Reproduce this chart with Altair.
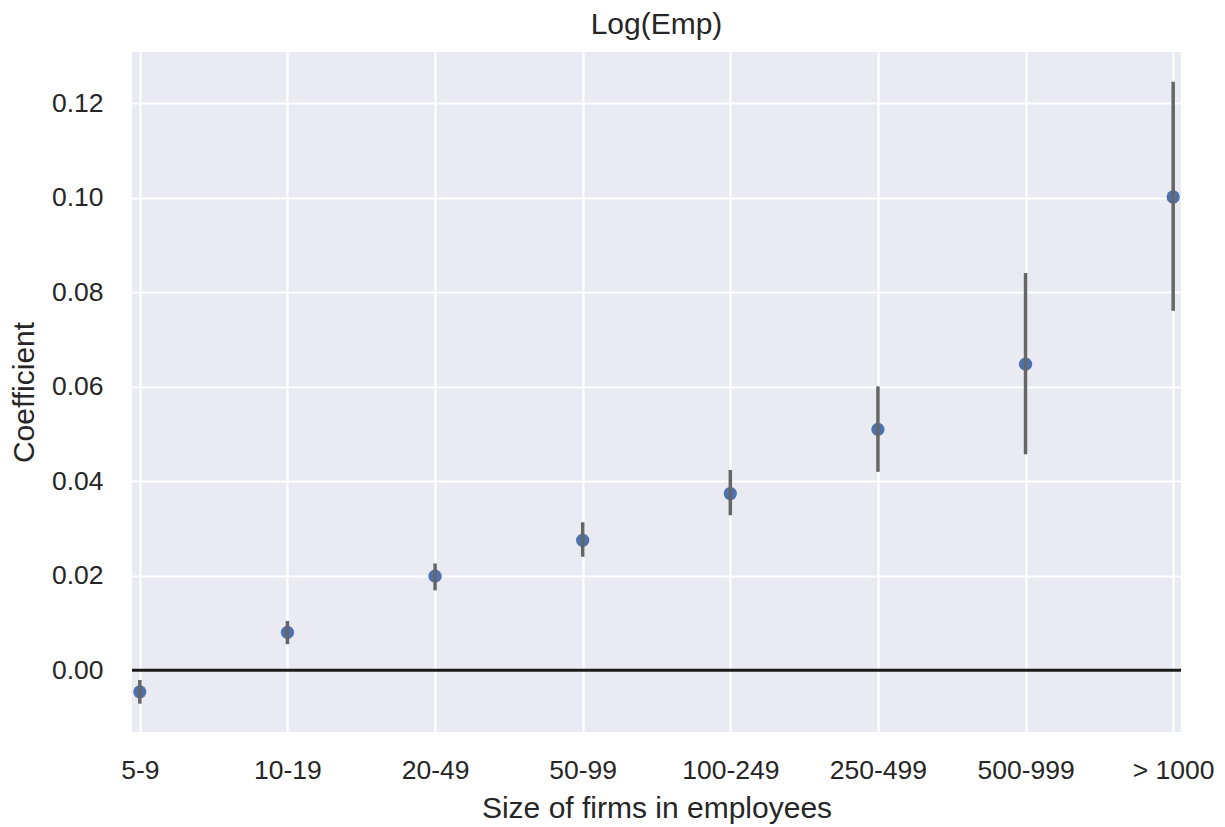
import altair as alt
import pandas as pd

categories = ["5-9", "10-19", "20-49", "50-99", "100-249", "250-499", "500-999", "> 1000"]
coef = [-0.0046, 0.0080, 0.0199, 0.0275, 0.0374, 0.0510, 0.0648, 0.1002]
ci_low = [-0.0071, 0.0055, 0.0169, 0.0240, 0.0328, 0.0420, 0.0457, 0.0761]
ci_high = [-0.0021, 0.0104, 0.0226, 0.0313, 0.0424, 0.0601, 0.0841, 0.1246]
zero_line = [0.0]

df = pd.DataFrame({"size": categories, "coef": coef, "lo": ci_low, "hi": ci_high})
zdf = pd.DataFrame({"y": zero_line})

FONT = "Liberation Sans"

x_enc = alt.X(
    "size:N",
    sort=categories,
    scale=alt.Scale(type="point", padding=0.053),
    axis=alt.Axis(
        title="Size of firms in employees",
        labelAngle=0,
        grid=True,
        gridColor="white",
        gridWidth=2.2,
        domain=False,
        ticks=False,
        tickSize=0,
        labelPadding=25,
        labelFontSize=26.5,
        titleFontSize=30,
        titlePadding=10,
        labelColor="#262626",
        titleColor="#262626",
        labelFont=FONT,
        titleFont=FONT,
        titleFontWeight="normal",
    ),
)
y_scale = alt.Scale(domain=[-0.0131, 0.1309], nice=False, zero=False)
y_axis = alt.Axis(
    title="Coefficient",
    values=[0.0, 0.02, 0.04, 0.06, 0.08, 0.10, 0.12],
    format=".2f",
    grid=True,
    gridColor="white",
    gridWidth=2.2,
    domain=False,
    ticks=False,
    tickSize=0,
    labelPadding=29,
    labelFontSize=26.5,
    titleFontSize=30,
    titlePadding=12,
    labelColor="#262626",
    titleColor="#262626",
    labelFont=FONT,
    titleFont=FONT,
    titleFontWeight="normal",
)

base = alt.Chart(df)

zero = alt.Chart(zdf).mark_rule(color="#1a1a1a", strokeWidth=3).encode(
    y=alt.Y("y:Q", scale=y_scale, axis=y_axis)
)

points = base.mark_circle(size=175, color="#4c72b0", opacity=1).encode(
    x=x_enc,
    y=alt.Y("coef:Q", scale=y_scale, axis=y_axis),
)

bars = base.mark_rule(color="#666666", strokeWidth=3.5).encode(
    x=x_enc,
    y=alt.Y("lo:Q", scale=y_scale, axis=y_axis),
    y2="hi:Q",
)

chart = (
    alt.layer(zero, points, bars)
    .properties(
        width=1049,
        height=680,
        background="white",
        title=alt.TitleParams(
            "Log(Emp)", fontSize=30, font=FONT, fontWeight="normal", color="#262626", offset=12, anchor="middle"
        ),
        autosize=alt.AutoSizeParams(type="none"),
        padding={"left": 124, "top": 44, "right": 36, "bottom": 95},
    )
    .configure_view(fill="#eaeaf2", stroke=None)
)

chart.save("out.html", embed_options={"renderer": "svg", "actions": False})
